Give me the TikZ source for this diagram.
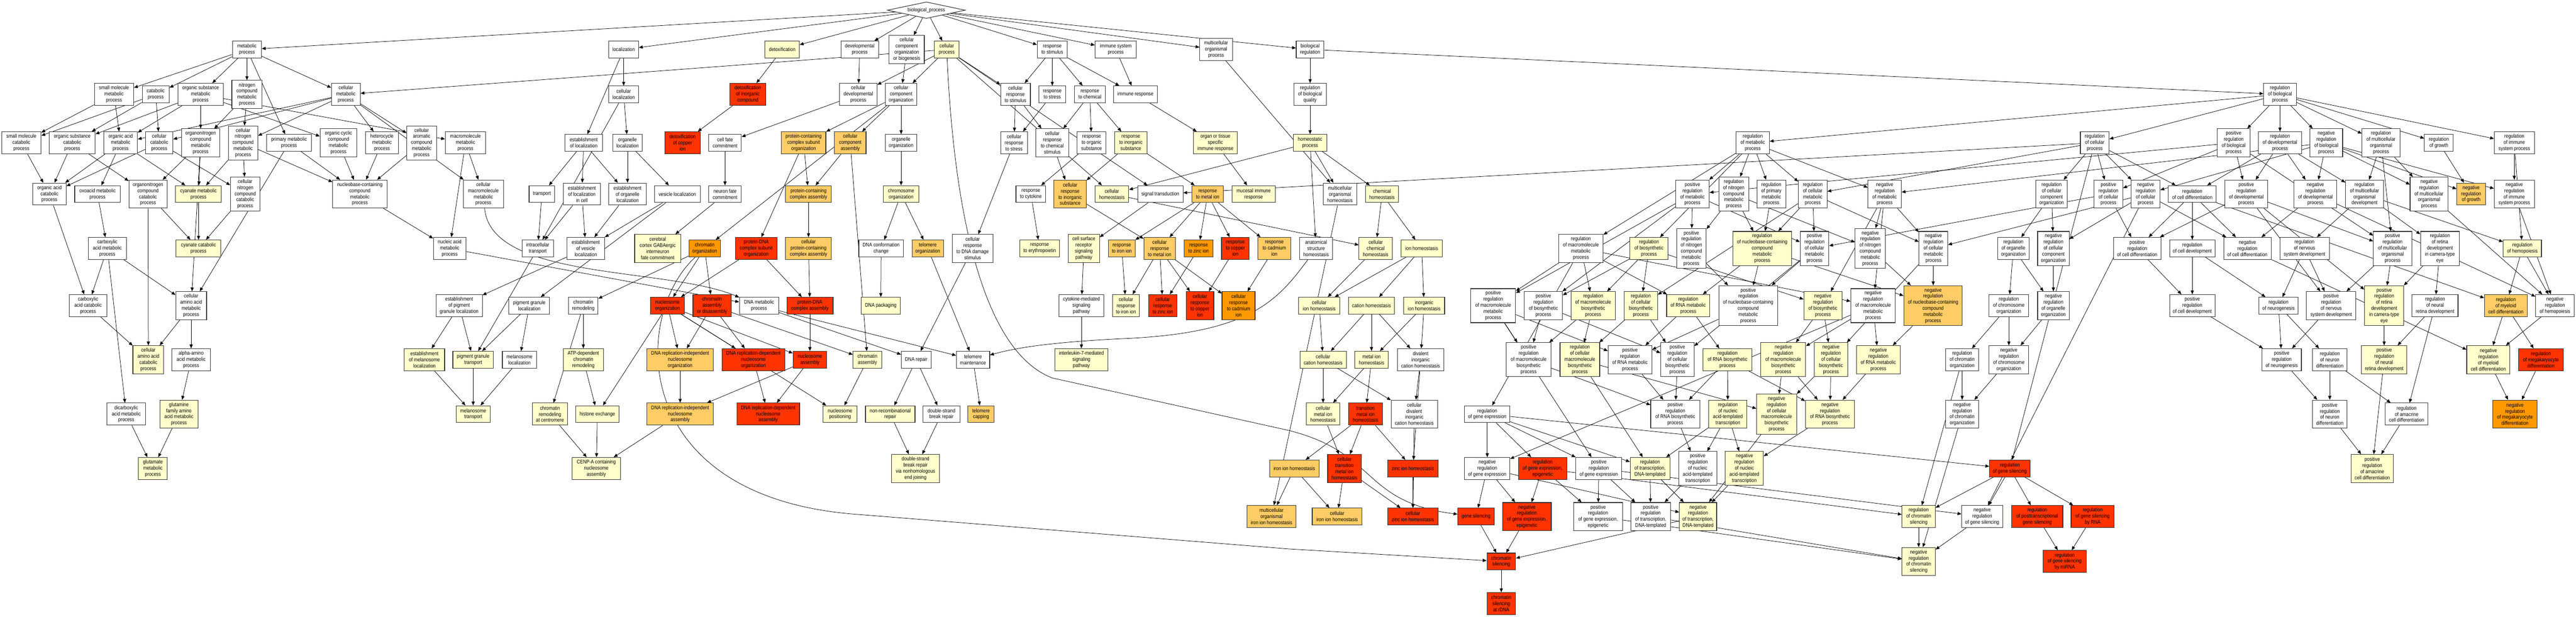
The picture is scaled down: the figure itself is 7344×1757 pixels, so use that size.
\documentclass[tikz,border=0pt]{standalone}
\usepackage{fontspec}
\setmainfont{Liberation Sans}[FakeStretch=0.86]
\usetikzlibrary{arrows.meta,shapes.geometric}
\definecolor{cY}{HTML}{FFFFCC}
\definecolor{cL}{HTML}{FFCC66}
\definecolor{cO}{HTML}{FF9900}
\definecolor{cR}{HTML}{FF3300}
\pgfdeclarelayer{bg}
\pgfdeclarelayer{paper}
\pgfsetlayers{paper,bg,main}
\tikzset{
 bx/.style={draw=black!80, line width=0.8pt, align=center, inner sep=0pt, font=\fontsize{7.5pt}{8.7pt}\selectfont},
 ed/.style={-{Triangle[length=5.5pt,width=4.5pt]}, line width=0.55pt, black},
}
\newcommand\nd[7]{\node[bx,fill=#6,minimum width={#4*0.5pt},minimum height={#5*0.5pt}] (#1) at (#2,#3) {#7};}
\begin{document}
\begin{tikzpicture}[x=0.5pt,y=-0.5pt]
\begin{pgfonlayer}{paper}
\path[use as bounding box, fill=white] (0,0) rectangle (7344,1757);
\end{pgfonlayer}
\node[bx, shape=diamond, aspect=4.7, minimum width=111pt, minimum height=23.5pt, fill=white] (root) at (2641,29) {biological\_process};
% row 141
\nd{mp}{704}{141}{83}{48}{white}{metabolic\\process}
\nd{loc}{1778}{141}{85}{48}{white}{localization}
\nd{detox}{2230}{141}{98}{48}{cY}{detoxification}
\nd{dev}{2451}{141}{107}{48}{white}{developmental\\process}
\nd{ccob}{2585}{141}{100}{80}{white}{cellular\\component\\organization\\or biogenesis}
\nd{cp}{2699}{141}{71}{48}{cY}{cellular\\process}
\nd{rs}{3000}{141}{86}{48}{white}{response\\to stimulus}
\nd{isp}{3181}{141}{118}{48}{white}{immune system\\process}
\nd{mop}{3467}{141}{93}{63}{white}{multicellular\\organismal\\process}
\nd{breg}{3735}{141}{79}{48}{white}{biological\\regulation}
% row 269
\nd{smm}{325}{269}{112}{63}{white}{small molecule\\metabolic\\process}
\nd{cat}{444}{269}{77}{48}{white}{catabolic\\process}
\nd{osm}{572}{269}{129}{63}{white}{organic substance\\metabolic\\process}
\nd{ncm}{704}{269}{86}{80}{white}{nitrogen\\compound\\metabolic\\process}
\nd{cmet}{986}{269}{82}{63}{white}{cellular\\metabolic\\process}
\nd{cloc}{1778}{269}{85}{48}{white}{cellular\\localization}
\nd{dic}{2132}{269}{102}{63}{cR}{detoxification\\of inorganic\\compound}
\nd{cdev}{2447}{269}{107}{63}{white}{cellular\\developmental\\process}
\nd{cco}{2569}{269}{90}{63}{white}{cellular\\component\\organization}
\nd{crs}{2895}{269}{85}{63}{white}{cellular\\response\\to stimulus}
\nd{rstr}{3000}{269}{77}{48}{white}{response\\to stress}
\nd{rchem}{3107}{269}{88}{48}{white}{response\\to chemical}
\nd{ir}{3237}{269}{125}{48}{white}{immune response}
\nd{rbq}{3735}{269}{93}{63}{white}{regulation\\of biological\\quality}
\nd{rbp}{6500}{269}{93}{63}{white}{regulation\\of biological\\process}
% row 407
\nd{smc}{61}{407}{112}{63}{white}{small molecule\\catabolic\\process}
\nd{osc}{206}{407}{131}{63}{white}{organic substance\\catabolic\\process}
\nd{oam}{344}{407}{96}{63}{white}{organic acid\\metabolic\\process}
\nd{ccat}{454}{407}{78}{63}{white}{cellular\\catabolic\\process}
\nd{onm}{572}{407}{108}{80}{white}{organonitrogen\\compound\\metabolic\\process}
\nd{cncm}{693}{407}{84}{97}{white}{cellular\\nitrogen\\compound\\metabolic\\process}
\nd{pm}{824}{407}{128}{48}{white}{primary metabolic\\process}
\nd{occm}{965}{407}{105}{80}{white}{organic cyclic\\compound\\metabolic\\process}
\nd{hcm}{1089}{407}{93}{63}{white}{heterocycle\\metabolic\\process}
\nd{cacm}{1202}{407}{85}{97}{white}{cellular\\aromatic\\compound\\metabolic\\process}
\nd{mmp}{1327}{407}{115}{63}{white}{macromolecule\\metabolic\\process}
\nd{eloc}{1664}{407}{107}{48}{white}{establishment\\of localization}
\nd{oloc}{1789}{407}{84}{48}{white}{organelle\\localization}
\nd{dcu}{1946}{407}{101}{63}{cR}{detoxification\\of copper\\ion}
\nd{cfc}{2067}{407}{93}{48}{white}{cell fate\\commitment}
\nd{pcso}{2291}{407}{127}{63}{cL}{protein-containing\\complex subunit\\organization}
\nd{cca}{2424}{407}{90}{63}{cL}{cellular\\component\\assembly}
\nd{oorg}{2569}{407}{90}{48}{white}{organelle\\organization}
\nd{crstr}{2891}{407}{77}{63}{white}{cellular\\response\\to stress}
\nd{crcs}{3000}{407}{93}{80}{white}{cellular\\response\\to chemical\\stimulus}
\nd{ros}{3112}{407}{82}{63}{white}{response\\to organic\\substance}
\nd{ris}{3224}{407}{92}{63}{cY}{response\\to inorganic\\substance}
\nd{otir}{3465}{407}{125}{63}{cY}{organ or tissue\\specific\\immune response}
\nd{hp}{3735}{407}{95}{48}{cY}{homeostatic\\process}
\nd{rmp}{4997}{407}{95}{63}{white}{regulation\\of metabolic\\process}
\nd{rcp}{5972}{407}{82}{63}{white}{regulation\\of cellular\\process}
\nd{prbp}{6368}{407}{93}{80}{white}{positive\\regulation\\of biological\\process}
\nd{rdp}{6500}{407}{123}{63}{white}{regulation\\of developmental\\process}
\nd{nrbp}{6632}{407}{93}{80}{white}{negative\\regulation\\of biological\\process}
\nd{rmop}{6788}{407}{108}{80}{white}{regulation\\of multicellular\\organismal\\process}
\nd{rg}{6953}{407}{82}{48}{white}{regulation\\of growth}
\nd{risp}{7168}{407}{114}{63}{white}{regulation\\of immune\\system process}
% row 553
\nd{oac}{141}{553}{95}{63}{white}{organic acid\\catabolic\\process}
\nd{oxo}{278}{553}{130}{48}{white}{oxoacid metabolic\\process}
\nd{onc}{422}{553}{109}{80}{white}{organonitrogen\\compound\\catabolic\\process}
\nd{cyam}{566}{553}{131}{48}{cY}{cyanate metabolic\\process}
\nd{cncc}{699}{553}{84}{97}{white}{cellular\\nitrogen\\compound\\catabolic\\process}
\nd{nbcm}{1026}{553}{155}{80}{white}{nucleobase-containing\\compound\\metabolic\\process}
\nd{cmm}{1378}{553}{115}{80}{white}{cellular\\macromolecule\\metabolic\\process}
\nd{tr}{1545}{553}{73}{48}{white}{transport}
\nd{elc}{1659}{553}{107}{63}{white}{establishment\\of localization\\in cell}
\nd{eol}{1789}{553}{106}{63}{white}{establishment\\of organelle\\localization}
\nd{vl}{1931}{553}{131}{48}{white}{vesicle localization}
\nd{nfc}{2067}{553}{93}{48}{white}{neuron fate\\commitment}
\nd{pca}{2305}{553}{131}{48}{cL}{protein-containing\\complex assembly}
\nd{chro}{2569}{553}{101}{48}{cY}{chromosome\\organization}
\nd{rcyt}{2939}{553}{85}{48}{white}{response\\to cytokine}
\nd{cris}{3051}{553}{92}{80}{cL}{cellular\\response\\to inorganic\\substance}
\nd{ch}{3170}{553}{96}{48}{cY}{cellular\\homeostasis}
\nd{st}{3308}{553}{129}{48}{white}{signal transduction}
\nd{rmi}{3443}{553}{90}{48}{cL}{response\\to metal ion}
\nd{mir}{3574}{553}{124}{48}{cY}{mucosal immune\\response}
\nd{moh}{3820}{553}{95}{63}{white}{multicellular\\organismal\\homeostasis}
\nd{chh}{3940}{553}{95}{48}{cY}{chemical\\homeostasis}
\nd{prmp}{4825}{553}{96}{80}{white}{positive\\regulation\\of metabolic\\process}
\nd{rncm}{4943}{553}{85}{97}{white}{regulation\\of nitrogen\\compound\\metabolic\\process}
\nd{rpm}{5050}{553}{82}{80}{white}{regulation\\of primary\\metabolic\\process}
\nd{rcmp}{5168}{553}{82}{80}{white}{regulation\\of cellular\\metabolic\\process}
\nd{nrmp}{5373}{553}{95}{80}{white}{negative\\regulation\\of metabolic\\process}
\nd{rcco}{5849}{553}{90}{80}{white}{regulation\\of cellular\\component\\organization}
\nd{prcp}{6011}{553}{82}{80}{white}{positive\\regulation\\of cellular\\process}
\nd{nrcp}{6117}{553}{82}{80}{white}{negative\\regulation\\of cellular\\process}
\nd{rcd}{6250}{553}{136}{48}{white}{regulation\\of cell differentiation}
\nd{prdp}{6404}{553}{121}{80}{white}{positive\\regulation\\of developmental\\process}
\nd{nrdp}{6601}{553}{122}{80}{white}{negative\\regulation\\of developmental\\process}
\nd{rmod}{6741}{553}{108}{80}{white}{regulation\\of multicellular\\organismal\\development}
\nd{nrmop}{6925}{553}{108}{97}{white}{negative\\regulation\\of multicellular\\organismal\\process}
\nd{nrg}{7045}{553}{82}{63}{cL}{negative\\regulation\\of growth}
\nd{nrisp}{7168}{553}{114}{80}{white}{negative\\regulation\\of immune\\system process}
% row 708
\nd{cam}{306}{708}{109}{63}{white}{carboxylic\\acid metabolic\\process}
\nd{cyac}{566}{708}{128}{48}{cY}{cyanate catabolic\\process}
\nd{nam}{1282}{708}{93}{63}{white}{nucleic acid\\metabolic\\process}
\nd{itr}{1533}{708}{90}{48}{white}{intracellular\\transport}
\nd{evl}{1670}{708}{107}{63}{white}{establishment\\of vesicle\\localization}
\nd{ccg}{1875}{708}{131}{80}{cY}{cerebral\\cortex GABAergic\\interneuron\\fate commitment}
\nd{co}{2009}{708}{90}{48}{cO}{chromatin\\organization}
\nd{pdso}{2156}{708}{119}{63}{cR}{protein-DNA\\complex subunit\\organization}
\nd{cpca}{2305}{708}{131}{63}{cL}{cellular\\protein-containing\\complex assembly}
\nd{dcc}{2512}{708}{127}{48}{white}{DNA conformation\\change}
\nd{tlo}{2645}{708}{90}{48}{cL}{telomere\\organization}
\nd{crdna}{2773}{708}{116}{80}{white}{cellular\\response\\to DNA damage\\stimulus}
\nd{rery}{2964}{708}{114}{48}{cY}{response\\to erythropoietin}
\nd{csrs}{3090}{708}{89}{80}{cY}{cell surface\\receptor\\signaling\\pathway}
\nd{rfe}{3198}{708}{76}{48}{cL}{response\\to iron ion}
\nd{crmi}{3306}{708}{90}{63}{cL}{cellular\\response\\to metal ion}
\nd{rzn}{3417}{708}{82}{48}{cO}{response\\to zinc ion}
\nd{rcu}{3522}{708}{79}{63}{cR}{response\\to copper\\ion}
\nd{rcdm}{3633}{708}{94}{63}{cL}{response\\to cadmium\\ion}
\nd{ash}{3752}{708}{95}{63}{white}{anatomical\\structure\\homeostasis}
\nd{cchh}{3922}{708}{95}{63}{cY}{cellular\\chemical\\homeostasis}
\nd{ionh}{4053}{708}{117}{48}{cY}{ion homeostasis}
\nd{rmmp}{4507}{708}{127}{80}{white}{regulation\\of macromolecule\\metabolic\\process}
\nd{rbsp}{4701}{708}{108}{63}{cY}{regulation\\of biosynthetic\\process}
\nd{prncm}{4822}{708}{85}{114}{white}{positive\\regulation\\of nitrogen\\compound\\metabolic\\process}
\nd{rnbc}{5024}{708}{168}{97}{cY}{regulation\\of nucleobase-containing\\compound\\metabolic\\process}
\nd{prcm}{5173}{708}{82}{97}{white}{positive\\regulation\\of cellular\\metabolic\\process}
\nd{nrncm}{5332}{708}{86}{114}{white}{negative\\regulation\\of nitrogen\\compound\\metabolic\\process}
\nd{nrcm}{5512}{708}{82}{97}{white}{negative\\regulation\\of cellular\\metabolic\\process}
\nd{roo}{5740}{708}{90}{63}{white}{regulation\\of organelle\\organization}
\nd{nrcco}{5854}{708}{90}{97}{white}{negative\\regulation\\of cellular\\component\\organization}
\nd{prcd}{6093}{708}{135}{63}{white}{positive\\regulation\\of cell differentiation}
\nd{rcdev}{6250}{708}{129}{48}{white}{regulation\\of cell development}
\nd{nrcd}{6407}{708}{135}{63}{white}{negative\\regulation\\of cell differentiation}
\nd{rnsd}{6570}{708}{141}{63}{white}{regulation\\of nervous\\system development}
\nd{prmop}{6821}{708}{109}{97}{white}{positive\\regulation\\of multicellular\\organismal\\process}
\nd{rrd}{6956}{708}{111}{97}{white}{regulation\\of retina\\development\\in camera-type\\eye}
\nd{rhem}{7191}{708}{109}{48}{cY}{regulation\\of hemopoiesis}
% row 871
\nd{caa}{251}{871}{107}{63}{white}{carboxylic\\acid catabolic\\process}
\nd{camm}{545}{871}{88}{80}{white}{cellular\\amino acid\\metabolic\\process}
\nd{epgl}{1309}{871}{132}{63}{white}{establishment\\of pigment\\granule localization}
\nd{pgl}{1509}{871}{116}{48}{white}{pigment granule\\localization}
\nd{crem}{1663}{871}{84}{48}{white}{chromatin\\remodeling}
\nd{nso}{1903}{871}{96}{48}{cR}{nucleosome\\organization}
\nd{cad}{2030}{871}{109}{63}{cR}{chromatin\\assembly\\or disassembly}
\nd{dnam}{2164}{871}{112}{48}{white}{DNA metabolic\\process}
\nd{pdca}{2309}{871}{132}{48}{cR}{protein-DNA\\complex assembly}
\nd{dnap}{2511}{871}{111}{48}{cY}{DNA packaging}
\nd{cmsp}{3083}{871}{129}{63}{white}{cytokine-mediated\\signaling\\pathway}
\nd{crfe}{3210}{871}{77}{63}{cY}{cellular\\response\\to iron ion}
\nd{crzn}{3315}{871}{82}{63}{cR}{cellular\\response\\to zinc ion}
\nd{crcu}{3421}{871}{79}{80}{cR}{cellular\\response\\to copper\\ion}
\nd{crcd}{3531}{871}{94}{80}{cO}{cellular\\response\\to cadmium\\ion}
\nd{cih}{3761}{871}{117}{48}{cY}{cellular\\ion homeostasis}
\nd{cath}{3910}{871}{131}{48}{cY}{cation homeostasis}
\nd{iih}{4060}{871}{117}{48}{cY}{inorganic\\ion homeostasis}
\nd{prmmp}{4257}{871}{128}{97}{white}{positive\\regulation\\of macromolecule\\metabolic\\process}
\nd{prbsp}{4400}{871}{109}{80}{white}{positive\\regulation\\of biosynthetic\\process}
\nd{rmbp}{4542}{871}{127}{80}{cY}{regulation\\of macromolecule\\biosynthetic\\process}
\nd{rcbp}{4678}{871}{95}{80}{cY}{regulation\\of cellular\\biosynthetic\\process}
\nd{rrna}{4813}{871}{123}{63}{cY}{regulation\\of RNA metabolic\\process}
\nd{prnbc}{4984}{871}{168}{114}{white}{positive\\regulation\\of nucleobase-containing\\compound\\metabolic\\process}
\nd{nrbsp}{5197}{871}{109}{80}{cY}{negative\\regulation\\of biosynthetic\\process}
\nd{nrmmp}{5340}{871}{127}{97}{white}{negative\\regulation\\of macromolecule\\metabolic\\process}
\nd{nrnbc}{5511}{871}{167}{114}{cL}{negative\\regulation\\of nucleobase-containing\\compound\\metabolic\\process}
\nd{rchro}{5727}{871}{113}{63}{white}{regulation\\of chromosome\\organization}
\nd{nroo}{5854}{871}{90}{80}{white}{negative\\regulation\\of organelle\\organization}
\nd{prcdev}{6250}{871}{129}{63}{white}{positive\\regulation\\of cell development}
\nd{rneur}{6496}{871}{112}{48}{white}{regulation\\of neurogenesis}
\nd{prnsd}{6646}{871}{141}{80}{white}{positive\\regulation\\of nervous\\system development}
\nd{prrd}{6797}{871}{112}{114}{cY}{positive\\regulation\\of retina\\development\\in camera-type\\eye}
\nd{rnrd}{6942}{871}{131}{63}{white}{regulation\\of neural\\retina development}
\nd{rmcd}{7144}{871}{122}{63}{cL}{regulation\\of myeloid\\cell differentiation}
\nd{nrhem}{7284}{871}{110}{63}{white}{negative\\regulation\\of hemopoiesis}
% row 1025
\nd{caac}{423}{1025}{88}{80}{cY}{cellular\\amino acid\\catabolic\\process}
\nd{aam}{545}{1025}{109}{63}{white}{alpha-amino\\acid metabolic\\process}
\nd{eml}{1210}{1025}{115}{63}{cY}{establishment\\of melanosome\\localization}
\nd{pgt}{1349}{1025}{116}{48}{cY}{pigment granule\\transport}
\nd{mloc}{1481}{1025}{98}{48}{white}{melanosome\\localization}
\nd{atp}{1663}{1025}{115}{63}{cY}{ATP-dependent\\chromatin\\remodeling}
\nd{drino}{1939}{1025}{189}{63}{cL}{DNA replication-independent\\nucleosome\\organization}
\nd{drdno}{2148}{1025}{179}{63}{cR}{DNA replication-dependent\\nucleosome\\organization}
\nd{nsa}{2309}{1025}{96}{48}{cR}{nucleosome\\assembly}
\nd{chra}{2473}{1025}{82}{48}{cY}{chromatin\\assembly}
\nd{dnar}{2612}{1025}{85}{48}{white}{DNA repair}
\nd{tm}{2774}{1025}{95}{48}{white}{telomere\\maintenance}
\nd{il7}{3083}{1025}{151}{63}{cY}{interleukin-7-mediated\\signaling\\pathway}
\nd{ccath}{3772}{1025}{132}{48}{cY}{cellular\\cation homeostasis}
\nd{mih}{3910}{1025}{96}{48}{cY}{metal ion\\homeostasis}
\nd{dich}{4050}{1025}{133}{63}{white}{divalent\\inorganic\\cation homeostasis}
\nd{prmbp}{4358}{1025}{128}{97}{white}{positive\\regulation\\of macromolecule\\biosynthetic\\process}
\nd{rcmbp}{4504}{1025}{113}{97}{cY}{regulation\\of cellular\\macromolecule\\biosynthetic\\process}
\nd{prrna}{4647}{1025}{125}{80}{white}{positive\\regulation\\of RNA metabolic\\process}
\nd{prcbp}{4782}{1025}{95}{97}{white}{positive\\regulation\\of cellular\\biosynthetic\\process}
\nd{rrnab}{4925}{1025}{140}{63}{cY}{regulation\\of RNA biosynthetic\\process}
\nd{nrmbp}{5084}{1025}{128}{97}{cY}{negative\\regulation\\of macromolecule\\biosynthetic\\process}
\nd{nrcbp}{5220}{1025}{96}{97}{cY}{negative\\regulation\\of cellular\\biosynthetic\\process}
\nd{nrrna}{5355}{1025}{124}{80}{cY}{negative\\regulation\\of RNA metabolic\\process}
\nd{rcho}{5594}{1025}{95}{63}{white}{regulation\\of chromatin\\organization}
\nd{nrchro}{5727}{1025}{113}{80}{white}{negative\\regulation\\of chromosome\\organization}
\nd{prneur}{6505}{1025}{112}{63}{white}{positive\\regulation\\of neurogenesis}
\nd{rnd}{6642}{1025}{98}{63}{white}{regulation\\of neuron\\differentiation}
\nd{prnrd}{6797}{1025}{130}{80}{cY}{positive\\regulation\\of neural\\retina development}
\nd{nrmcd}{7094}{1025}{123}{80}{cY}{negative\\regulation\\of myeloid\\cell differentiation}
\nd{rmkd}{7244}{1025}{128}{63}{cR}{regulation\\of megakaryocyte\\differentiation}
% row 1180
\nd{dcam}{360}{1180}{110}{63}{white}{dicarboxylic\\acid metabolic\\process}
\nd{gfam}{510}{1180}{109}{80}{cY}{glutamine\\family amino\\acid metabolic\\process}
\nd{mt}{1349}{1180}{98}{48}{cY}{melanosome\\transport}
\nd{crc}{1568}{1180}{100}{63}{cY}{chromatin\\remodeling\\at centromere}
\nd{hex}{1703}{1180}{123}{48}{cY}{histone exchange}
\nd{drina}{1939}{1180}{189}{63}{cL}{DNA replication-independent\\nucleosome\\assembly}
\nd{drdna}{2190}{1180}{179}{63}{cR}{DNA replication-dependent\\nucleosome\\assembly}
\nd{nsp}{2395}{1180}{96}{48}{cY}{nucleosome\\positioning}
\nd{nrr}{2538}{1180}{141}{48}{cY}{non-recombinational\\repair}
\nd{dsbr}{2684}{1180}{105}{48}{white}{double-strand\\break repair}
\nd{tcap}{2797}{1180}{75}{48}{cL}{telomere\\capping}
\nd{cmih}{3772}{1180}{95}{63}{cY}{cellular\\metal ion\\homeostasis}
\nd{tmih}{3893}{1180}{96}{63}{cR}{transition\\metal ion\\homeostasis}
\nd{cdich}{4032}{1180}{132}{80}{white}{cellular\\divalent\\inorganic\\cation homeostasis}
\nd{rge}{4240}{1180}{129}{48}{white}{regulation\\of gene expression}
\nd{prrnab}{4776}{1180}{140}{80}{white}{positive\\regulation\\of RNA biosynthetic\\process}
\nd{rnat}{4926}{1180}{109}{80}{cY}{regulation\\of nucleic\\acid-templated\\transcription}
\nd{nrcmbp}{5065}{1180}{114}{114}{cY}{negative\\regulation\\of cellular\\macromolecule\\biosynthetic\\process}
\nd{nrrnab}{5217}{1180}{140}{80}{cY}{negative\\regulation\\of RNA biosynthetic\\process}
\nd{nrcho}{5594}{1180}{95}{80}{white}{negative\\regulation\\of chromatin\\organization}
\nd{prnd}{6642}{1180}{98}{80}{white}{positive\\regulation\\of neuron\\differentiation}
\nd{ramd}{6861}{1180}{122}{63}{white}{regulation\\of amacrine\\cell differentiation}
\nd{nrmkd}{7170}{1180}{127}{80}{cO}{negative\\regulation\\of megakaryocyte\\differentiation}
% row 1335
\nd{glu}{436}{1335}{82}{63}{cY}{glutamate\\metabolic\\process}
\nd{cenp}{1700}{1335}{139}{63}{cY}{CENP-A containing\\nucleosome\\assembly}
\nd{nhej}{2610}{1335}{136}{80}{cY}{double-strand\\break repair\\via nonhomologous\\end joining}
\nd{ironh}{3690}{1335}{141}{48}{cL}{iron ion homeostasis}
\nd{ctmih}{3833}{1335}{96}{80}{cR}{cellular\\transition\\metal ion\\homeostasis}
\nd{znh}{4028}{1335}{144}{48}{cR}{zinc ion homeostasis}
\nd{nrge}{4240}{1335}{129}{63}{white}{negative\\regulation\\of gene expression}
\nd{rgee}{4398}{1335}{138}{63}{cR}{regulation\\of gene expression,\\epigenetic}
\nd{prge}{4558}{1335}{131}{63}{white}{positive\\regulation\\of gene expression}
\nd{rtdt}{4704}{1335}{113}{63}{cY}{regulation\\of transcription,\\DNA-templated}
\nd{prnat}{4840}{1335}{109}{97}{white}{positive\\regulation\\of nucleic\\acid-templated\\transcription}
\nd{nrnat}{4973}{1335}{109}{97}{cY}{negative\\regulation\\of nucleic\\acid-templated\\transcription}
\nd{rgs}{5730}{1335}{116}{48}{cR}{regulation\\of gene silencing}
\nd{pramd}{6763}{1335}{121}{80}{cY}{positive\\regulation\\of amacrine\\cell differentiation}
% row 1472
\nd{moih}{3625}{1472}{140}{63}{cL}{multicellular\\organismal\\iron ion homeostasis}
\nd{cfeh}{3812}{1472}{142}{48}{cL}{cellular\\iron ion homeostasis}
\nd{cznh}{4028}{1472}{144}{48}{cR}{cellular\\zinc ion homeostasis}
\nd{gs}{4208}{1472}{104}{48}{cR}{gene silencing}
\nd{nrgee}{4353}{1472}{139}{80}{cR}{negative\\regulation\\of gene expression,\\epigenetic}
\nd{prgee}{4556}{1472}{139}{80}{white}{positive\\regulation\\of gene expression,\\epigenetic}
\nd{prtdt}{4706}{1472}{114}{80}{white}{positive\\regulation\\of transcription,\\DNA-templated}
\nd{nrtdt}{4841}{1472}{106}{80}{cY}{negative\\regulation\\of transcription,\\DNA-templated}
\nd{rcs}{5470}{1472}{95}{63}{cY}{regulation\\of chromatin\\silencing}
\nd{nrgs}{5651}{1472}{117}{63}{white}{negative\\regulation\\of gene silencing}
\nd{rptgs}{5808}{1472}{146}{63}{cR}{regulation\\of posttranscriptional\\gene silencing}
\nd{rgsr}{5966}{1472}{123}{63}{cR}{regulation\\of gene silencing\\by RNA}
% rows 1600 / 1720
\nd{chs}{4280}{1600}{82}{48}{cR}{chromatin\\silencing}
\nd{nrcs}{5470}{1600}{95}{80}{cY}{negative\\regulation\\of chromatin\\silencing}
\nd{rgsm}{5886}{1600}{123}{63}{cR}{regulation\\of gene silencing\\by miRNA}
\nd{chsr}{4280}{1720}{82}{63}{cR}{chromatin\\silencing\\at rDNA}
\begin{pgfonlayer}{bg}
\foreach \a/\b in {root/mp,root/loc,root/detox,root/dev,root/ccob,root/cp,root/rs,root/isp,root/mop,root/breg,%
mp/smm,mp/cat,mp/osm,mp/ncm,mp/pm,mp/cmet,%
cp/cmet,cp/cdev,cp/cco,cp/crs,cp/ch,cp/st,%
dev/cdev,ccob/cco,%
smm/smc,smm/oam,cat/smc,cat/osc,cat/ccat,%
osm/osc,osm/oam,osm/onm,osm/occm,osm/mmp,%
ncm/onm,ncm/cncm,%
cmet/oam,cmet/ccat,cmet/cncm,cmet/hcm,cmet/cacm,cmet/cmm,%
smc/oac,osc/oac,osc/onc,oam/oac,oam/oxo,oam/cyam,ccat/oac,ccat/cncc,%
onm/onc,onm/cyam,onm/camm,cncm/cyam,cncm/cncc,cncm/nbcm,pm/nbcm,pm/camm,occm/nbcm,hcm/nbcm,cacm/nbcm,%
oxo/cam,onc/cyac,onc/caac,cyam/cyac,cncc/cyac,oac/caa,cam/caa,cam/camm,cam/dcam,caa/caac,camm/caac,camm/aam,aam/gfam,dcam/glu,gfam/glu,%
nbcm/nam,mmp/cmm,mmp/nam,nam/dnam,%
loc/cloc,loc/eloc,cloc/oloc,cloc/itr,eloc/tr,eloc/elc,eloc/eol,oloc/eol,oloc/vl,tr/itr,elc/itr,elc/evl,eol/evl,vl/evl,vl/pgl,evl/epgl,itr/pgt,epgl/eml,epgl/pgt,pgl/pgt,pgl/mloc,eml/mt,pgt/mt,mloc/mt,%
detox/dic,dic/dcu,cdev/cfc,cfc/nfc,nfc/ccg,%
cco/oorg,cco/cca,cco/co,cco/pcso,pcso/pca,pcso/pdso,cca/pca,cca/chra,pca/cpca,oorg/chro,chro/dcc,chro/tlo,%
co/nso,co/crem,co/cad,pdso/nso,pdso/pdca,cpca/pdca,dcc/dnap,tlo/tm,crem/atp,crem/crc,atp/hex,%
nso/hex,nso/drino,nso/drdno,nso/nsa,nso/nsp,cad/drino,cad/drdno,cad/chra,dnam/dnar,dnam/tm,pdca/nsa,%
drino/drina,drdno/drdna,nsa/drina,nsa/drdna,chra/nsp,crc/cenp,hex/cenp,drina/cenp,%
crdna/dnar,dnar/nrr,dnar/dsbr,nrr/nhej,dsbr/nhej,tm/tcap,%
rs/crs,rs/rstr,rs/rchem,rs/ir,isp/ir,crs/crstr,crs/crcs,rstr/crstr,rchem/crcs,rchem/ros,rchem/ris,ir/otir,otir/mir,%
crstr/crdna,crcs/cris,ros/rcyt,ris/cris,ris/rmi,rcyt/rery,st/csrs,csrs/cmsp,cmsp/il7,%
rmi/rfe,rmi/crmi,rmi/rzn,rmi/rcu,rmi/rcdm,cris/crmi,rfe/crfe,crmi/crfe,crmi/crzn,crmi/crcu,crmi/crcd,rzn/crzn,rcu/crcu,rcdm/crcd,%
mop/moh,breg/rbq,breg/rbp,rbq/hp,hp/moh,hp/chh,hp/ash,hp/ch,ch/cchh,chh/cchh,chh/ionh,cchh/cih,ionh/cih,ionh/cath,ionh/iih,%
cih/ccath,cath/ccath,cath/mih,cath/dich,iih/mih,iih/dich,ccath/cmih,ccath/cdich,mih/cmih,mih/tmih,dich/cdich,dich/znh,%
cmih/ctmih,tmih/ironh,tmih/ctmih,tmih/znh,cdich/cznh,ironh/cfeh,ironh/moih,moh/moih,ctmih/cfeh,ctmih/cznh,znh/cznh,%
rbp/rmp,rbp/rcp,rbp/prbp,rbp/rdp,rbp/nrbp,rbp/rmop,rbp/rg,rbp/risp,%
rcp/st,rcp/rcmp,rcp/rcco,rcp/prcp,rcp/nrcp,rcp/rcd,rcp/rgs,%
rmp/rncm,rmp/rpm,rmp/rcmp,rmp/nrmp,rmp/prmp,rmp/rmmp,rmp/rbsp,%
prbp/prmp,prbp/prcp,prbp/prdp,prbp/prmop,%
nrbp/nrmp,nrbp/nrcp,nrbp/nrdp,nrbp/nrmop,nrbp/nrg,nrbp/nrisp,%
rdp/rcd,rdp/prdp,rdp/nrdp,rdp/rmod,%
rmop/rmod,rmop/nrmop,rmop/prmop,rg/nrg,risp/nrisp,risp/rhem,%
rncm/rnbc,rncm/nrncm,rncm/prncm,rpm/rnbc,rcmp/rnbc,rcmp/prcm,rcmp/nrcm,rcmp/rcbp,%
nrmp/nrncm,nrmp/nrcm,nrmp/nrbsp,nrmp/nrmmp,prmp/prncm,prmp/prcm,prmp/prbsp,prmp/prmmp,%
prcp/prcm,prcp/prcd,nrcp/nrcm,nrcp/nrcco,nrcp/nrcd,nrcp/nrgs,%
rcco/roo,rcco/nrcco,nrcco/nroo,roo/rchro,roo/nroo,rchro/rcho,rchro/nrchro,nroo/nrchro,rcho/nrcho,rcho/rcs,nrchro/nrcho,nrcho/nrcs,%
rcd/prcd,rcd/rcdev,rcd/nrcd,rcd/rmcd,prdp/prcd,prdp/prmop,prdp/prnsd,prdp/prrd,nrdp/nrcd,nrdp/nrhem,%
rmod/rnsd,rmod/rrd,rmod/rhem,nrmop/nrhem,nrisp/nrhem,rhem/rmcd,rhem/nrhem,%
rcdev/prcdev,rcdev/rneur,prcd/prcdev,nrcd/nrmcd,rnsd/rneur,rnsd/prnsd,prmop/prnsd,prmop/prrd,rrd/prrd,rrd/rnrd,%
prcdev/prneur,rneur/prneur,rneur/rnd,prnsd/prneur,prrd/prnrd,rnrd/prnrd,rnrd/ramd,rmcd/nrmcd,rmcd/rmkd,nrhem/nrmcd,%
prneur/prnd,rnd/prnd,rnd/ramd,nrmcd/nrmkd,rmkd/nrmkd,prnd/pramd,ramd/pramd,prnrd/pramd,%
rmmp/rge,rmmp/prmmp,rmmp/rmbp,rmmp/nrmmp,rmmp/rrna,%
rbsp/prbsp,rbsp/rmbp,rbsp/rcbp,rbsp/nrbsp,%
prncm/prnbc,rnbc/prnbc,rnbc/nrnbc,rnbc/rrna,prcm/prnbc,prcm/prcbp,nrncm/nrnbc,nrcm/nrnbc,nrcm/nrcbp,%
nrbsp/nrmbp,nrbsp/nrcbp,nrmmp/nrmbp,nrmmp/nrrna,nrmmp/nrge,nrnbc/nrrna,%
prmmp/prmbp,prmmp/prrna,prmmp/prge,prbsp/prmbp,prbsp/prcbp,rmbp/prmbp,rmbp/rcmbp,rcbp/rcmbp,rcbp/prcbp,%
rrna/prrna,rrna/rrnab,prnbc/prrna,prmbp/prrnab,rcmbp/rtdt,rcmbp/nrcmbp,prrna/prrnab,prcbp/prrnab,%
rrnab/prrnab,rrnab/rnat,rrnab/nrrnab,nrmbp/nrcmbp,nrmbp/nrrnab,nrcbp/nrcmbp,nrcbp/nrrnab,nrrna/nrrnab,%
rnat/rtdt,rnat/prnat,rnat/nrnat,prrnab/prnat,nrrnab/nrnat,nrcmbp/nrtdt,%
rge/nrge,rge/rgee,rge/prge,rge/rtdt,rge/rgs,nrge/gs,nrge/nrgee,nrge/nrtdt,rgee/nrgee,rgee/prgee,rgee/rcs,%
prge/prgee,prge/prtdt,prge/nrgs,rtdt/prtdt,rtdt/nrtdt,prnat/prtdt,nrnat/nrtdt,%
gs/chs,nrgee/chs,nrtdt/chs,chs/chsr,rgs/rcs,rgs/nrgs,rgs/rptgs,rgs/rgsr,rcs/nrcs,nrgs/nrcs,prgee/nrcs,prtdt/nrcs,rptgs/rgsm,rgsr/rgsm}
{\draw[ed] (\a) -- (\b);}
\draw[ed] (co) .. controls (1800,900) and (1790,1420) .. (2448,1466) -- (3672,1564) -- (chs);
\draw[ed] (cp) .. controls (2720,600) and (2800,1000) .. (3000,1077) -- (3672,1226) .. controls (3930,1290) and (3880,1430) .. (gs);
\draw[ed] (ash) .. controls (3640,860) and (3560,950) .. (3200,965) .. controls (3000,975) and (2900,990) .. (tm);
\draw[ed] (cmm) .. controls (1400,800) and (1900,760) .. (dnam);
\end{pgfonlayer}
\end{tikzpicture}
\end{document}
